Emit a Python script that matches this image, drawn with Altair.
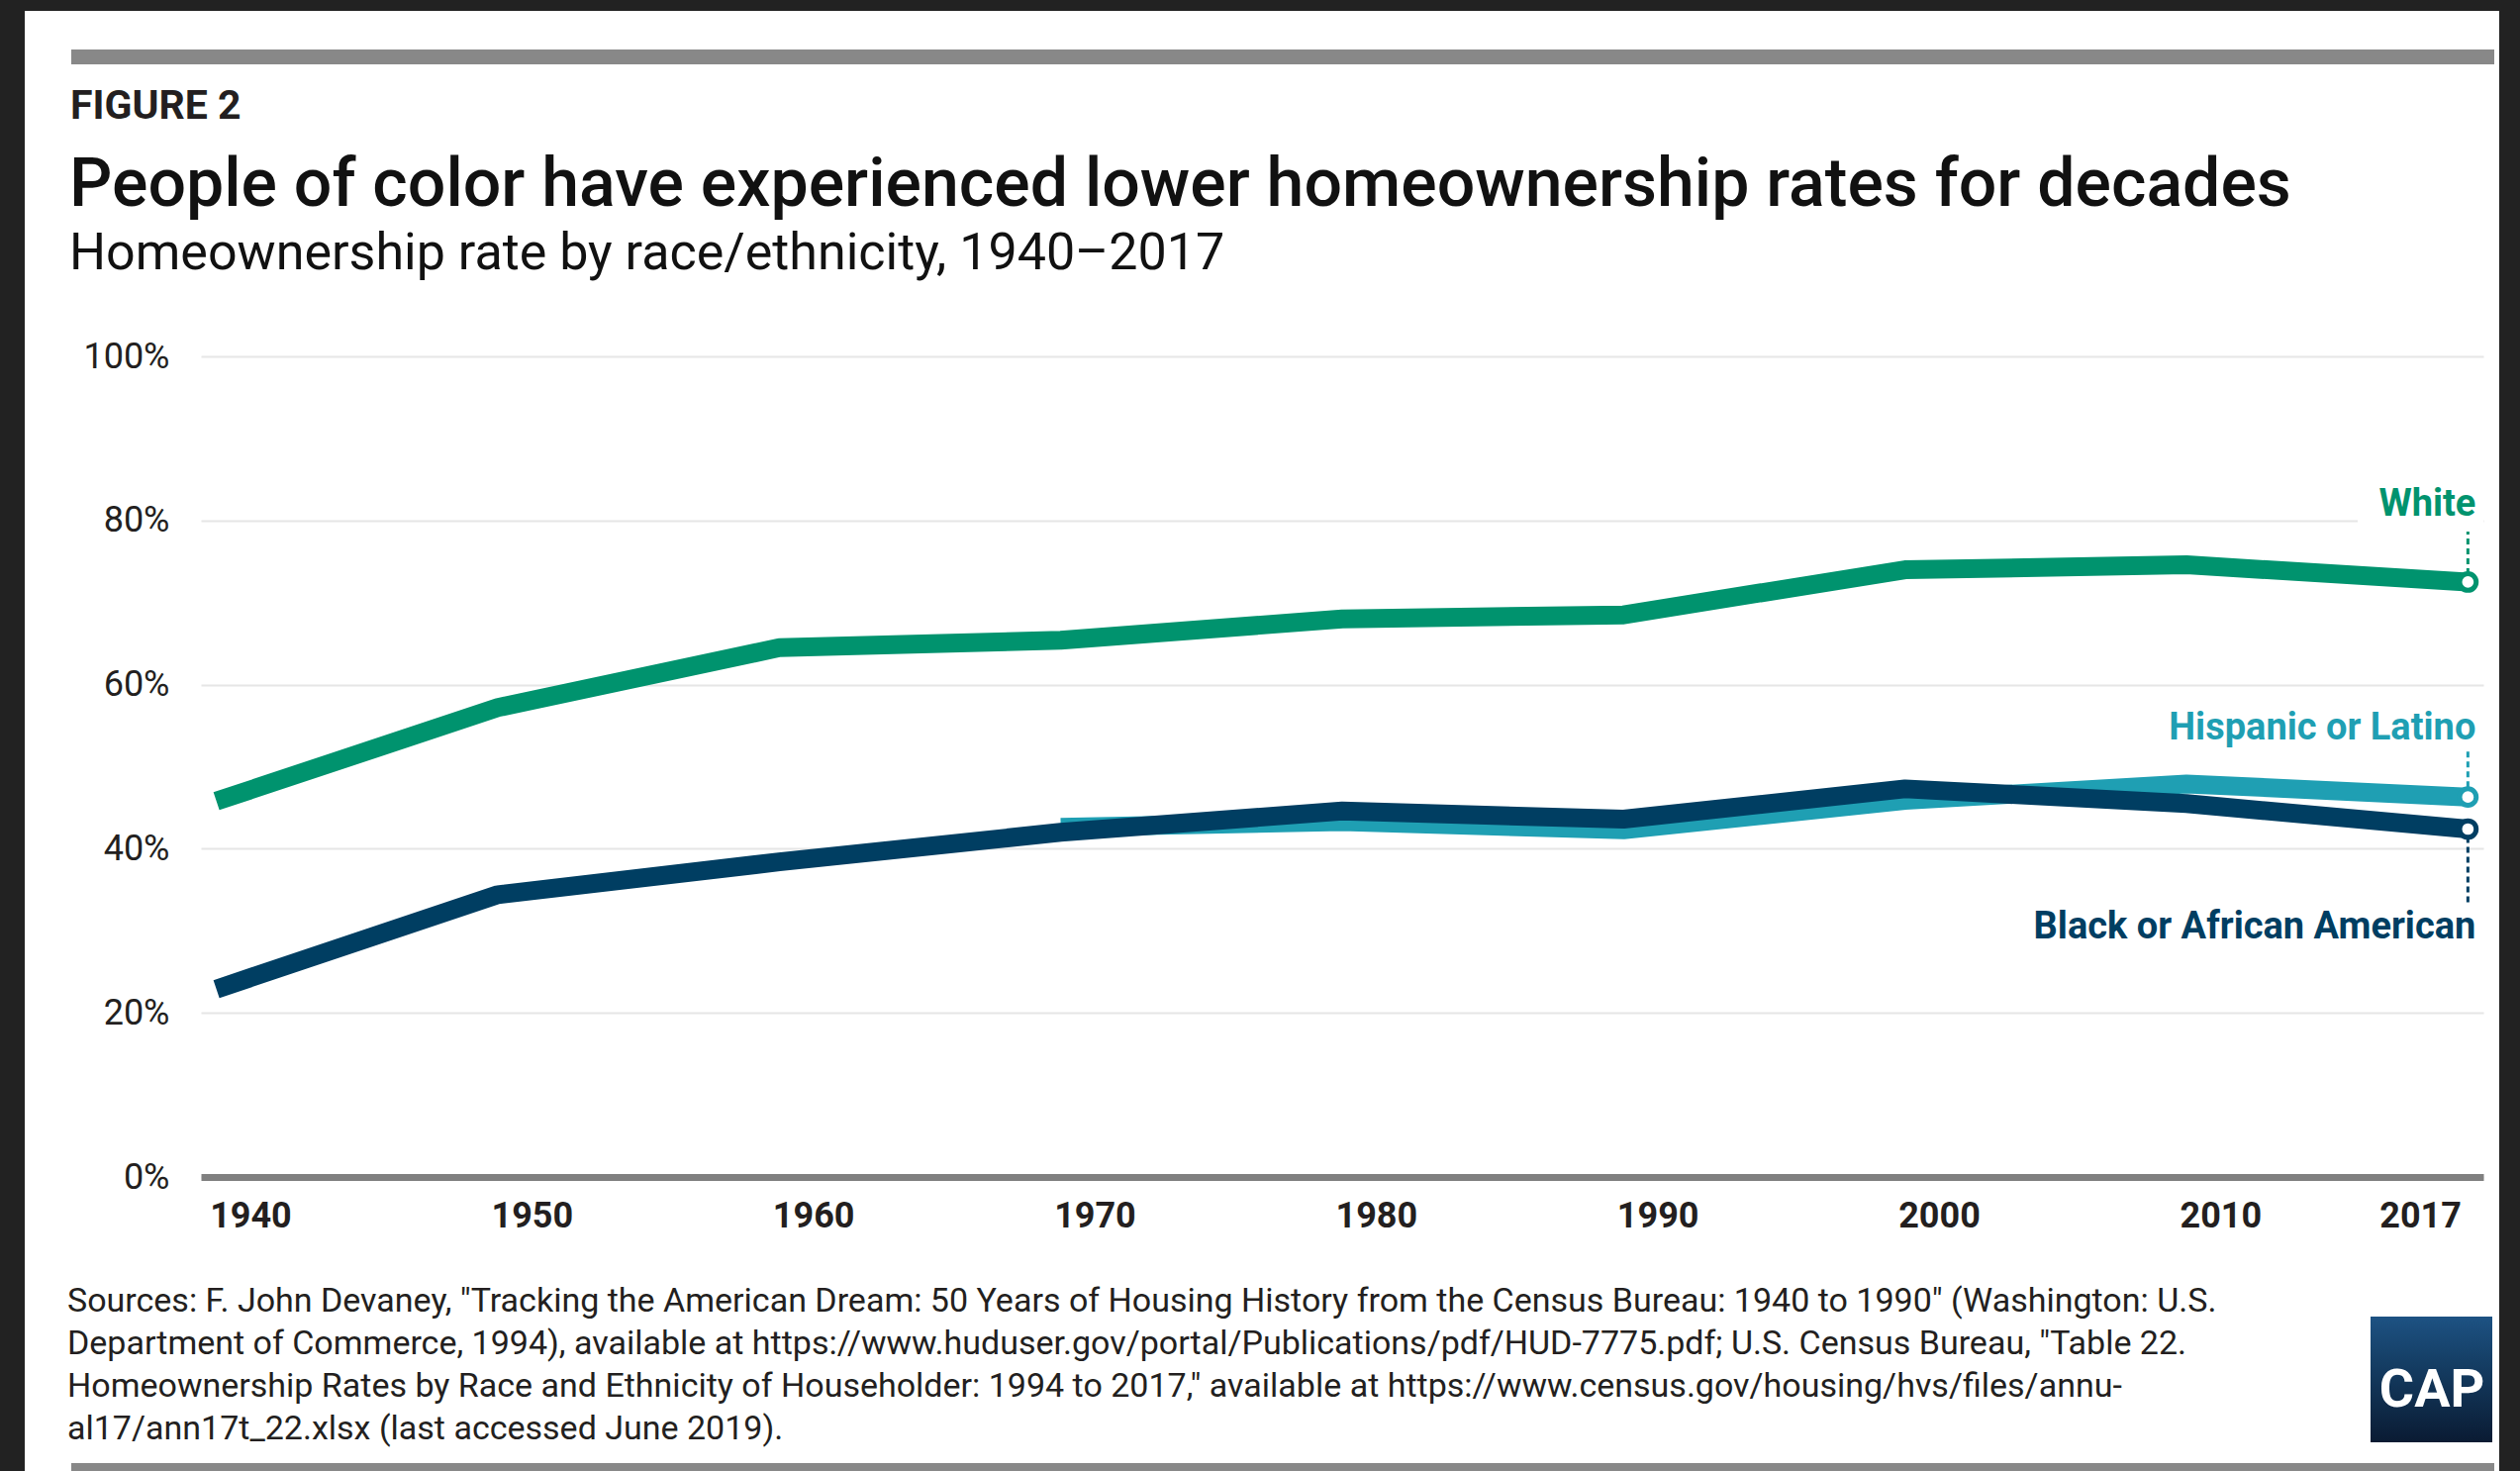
import altair as alt
import pandas as pd

# ---------------- data ----------------
years = ["1940", "1950", "1960", "1970", "1980", "1990", "2000", "2010", "2017"]
white = [45.8, 57.2, 64.5, 65.4, 68.0, 68.5, 74.0, 74.6, 72.5]
hispanic = [None, None, None, 42.6, 43.3, 42.3, 45.9, 47.9, 46.3]
black = [22.9, 34.4, 38.4, 42.0, 44.6, 43.6, 47.3, 45.5, 42.4]
series = ["White", "Hispanic or Latino", "Black or African American"]
colors = ["#00936e", "#1f9fb3", "#003e62"]
y_ticks = [0, 20, 40, 60, 80, 100]

fig_label = "FIGURE 2"
title = "People of color have experienced lower homeownership rates for decades"
subtitle = "Homeownership rate by race/ethnicity, 1940\u20132017"
sources = [
    "Sources: F. John Devaney, \"Tracking the American Dream: 50 Years of Housing History from the Census Bureau: 1940 to 1990\" (Washington: U.S.",
    "Department of Commerce, 1994), available at https://www.huduser.gov/portal/Publications/pdf/HUD-7775.pdf; U.S. Census Bureau, \"Table 22.",
    "Homeownership Rates by Race and Ethnicity of Householder: 1994 to 2017,\" available at https://www.census.gov/housing/hvs/files/annu-",
    "al17/ann17t_22.xlsx (last accessed June 2019).",
]

rows = []
for name, vals in zip(series, [white, hispanic, black]):
    for yr, v in zip(years, vals):
        if v is not None:
            rows.append({"year": yr, "rate": v, "group": name})
df = pd.DataFrame(rows)
one = pd.DataFrame({"k": [0]})

FONT = "Roboto"
W, H = 2306, 829
INK = "#231f20"

x_enc = alt.X(
    "year:O",
    scale=alt.Scale(type="point", domain=years, padding=0.055),
    axis=alt.Axis(
        title=None, labelAngle=0, ticks=False, grid=False,
        labelFont=FONT, labelFontSize=36, labelFontWeight="bold", labelColor=INK,
        labelAlign={"condition": {"test": "datum.value === '2017'", "value": "right"}, "value": "left"},
        labelBaseline="top", labelPadding=22, labelOffset=-7,
        domainColor="#808080", domainWidth=7,
    ),
)
y_enc = alt.Y(
    "rate:Q",
    scale=alt.Scale(domain=[0, 100], nice=False),
    axis=alt.Axis(
        title=None, values=y_ticks, labelExpr="datum.value + '%'",
        ticks=False, domain=False, gridColor="#e6e6e6", gridWidth=2,
        labelFont=FONT, labelFontSize=36, labelColor=INK, labelPadding=32,
    ),
)

layers = []

# dark frame around the white panel
frame = [(-203, -178, -360, 1126), (2322, 2343, -360, 1126), (-203, 2343, -360, -349)]
for x0, x1, y0, y1 in frame:
    layers.append(
        alt.Chart(one).mark_rect(color="#222222").encode(
            x=alt.value(x0), x2=alt.value(x1), y=alt.value(y0), y2=alt.value(y1)
        )
    )

# grey rules top and bottom
layers.append(alt.Chart(one).mark_rect(color="#888888").encode(
    x=alt.value(-131), x2=alt.value(2317), y=alt.value(-310), y2=alt.value(-295)))
layers.append(alt.Chart(one).mark_rect(color="#888888").encode(
    x=alt.value(-131), x2=alt.value(2317), y=alt.value(1118), y2=alt.value(1126)))

# header texts
layers.append(alt.Chart(one).mark_text(
    align="left", baseline="alphabetic", font=FONT, fontSize=41, fontWeight="bold", color=INK
).encode(x=alt.value(-132), y=alt.value(-240), text=alt.value(fig_label)))
layers.append(alt.Chart(one).mark_text(
    align="left", baseline="alphabetic", font=FONT, fontSize=68, fontWeight=500, color="#111111"
).encode(x=alt.value(-133), y=alt.value(-152), text=alt.value(title)))
layers.append(alt.Chart(one).mark_text(
    align="left", baseline="alphabetic", font=FONT, fontSize=52, color="#111111"
).encode(x=alt.value(-133), y=alt.value(-88), text=alt.value(subtitle)))

# sources
layers.append(alt.Chart(one).mark_text(
    align="left", baseline="alphabetic", font=FONT, fontSize=34, color=INK, lineHeight=43
).encode(x=alt.value(-135), y=alt.value(965), text=alt.value(sources)))

# CAP logo
layers.append(alt.Chart(one).mark_rect(
    fill=alt.Gradient(
        gradient="linear", x1=0, x2=0, y1=0, y2=1,
        stops=[
            alt.GradientStop(color="#1d5283", offset=0),
            alt.GradientStop(color="#153f66", offset=0.35),
            alt.GradientStop(color="#0a1b33", offset=1),
        ],
    )
).encode(x=alt.value(2192), x2=alt.value(2315), y=alt.value(970), y2=alt.value(1097)))
layers.append(alt.Chart(one).mark_text(
    align="center", baseline="alphabetic", font=FONT, fontSize=54, fontWeight="bold", color="white"
).encode(x=alt.value(2254), y=alt.value(1061), text=alt.value("CAP")))

# white backing that breaks the 80% gridline behind the "White" label
layers.append(alt.Chart(one).mark_rect(color="white").encode(
    x=alt.value(2179), x2=alt.value(2306), y=alt.value(140), y2=alt.value(172)))

# data lines: Hispanic first, then Black, then White on top
for name in ["Hispanic or Latino", "Black or African American", "White"]:
    c = colors[series.index(name)]
    layers.append(
        alt.Chart(df).transform_filter(alt.datum.group == name)
        .mark_line(color=c, strokeWidth=19, strokeJoin="round")
        .encode(x=x_enc, y=y_enc)
    )

# leader lines, end points and labels
label_cfg = {
    "White": dict(dy=-67, off=(-8, -51)),
    "Hispanic or Latino": dict(dy=-58, off=(-10, -50)),
    "Black or African American": dict(dy=110, off=(8, 74)),
}
last = df[df.year == "2017"]
for name in series:
    c = colors[series.index(name)]
    cfg = label_cfg[name]
    d = last[last.group == name]
    layers.append(
        alt.Chart(d).mark_rule(
            color=c, strokeWidth=3, strokeDash=[6, 4],
            yOffset=cfg["off"][0], y2Offset=cfg["off"][1],
        ).encode(x=x_enc, y=y_enc, y2=alt.Y2("rate:Q"))
    )
    layers.append(
        alt.Chart(d).mark_point(
            shape="circle", filled=True, fill="white", stroke=c, strokeWidth=5, size=280, opacity=1
        ).encode(x=x_enc, y=y_enc)
    )
    layers.append(
        alt.Chart(d).mark_text(
            align="right", baseline="alphabetic", dx=8, dy=cfg["dy"],
            font=FONT, fontSize=38, fontWeight="bold", color=c,
        ).encode(x=x_enc, y=y_enc, text="group:N")
    )

chart = (
    alt.layer(*layers)
    .properties(
        width=W, height=H,
        autosize=alt.AutoSizeParams(type="none"),
        padding={"left": 203, "top": 360, "right": 37, "bottom": 297},
        background="white",
    )
    .configure_view(stroke=None)
)

chart.save("out.html", embed_options={"renderer": "svg", "actions": False})
